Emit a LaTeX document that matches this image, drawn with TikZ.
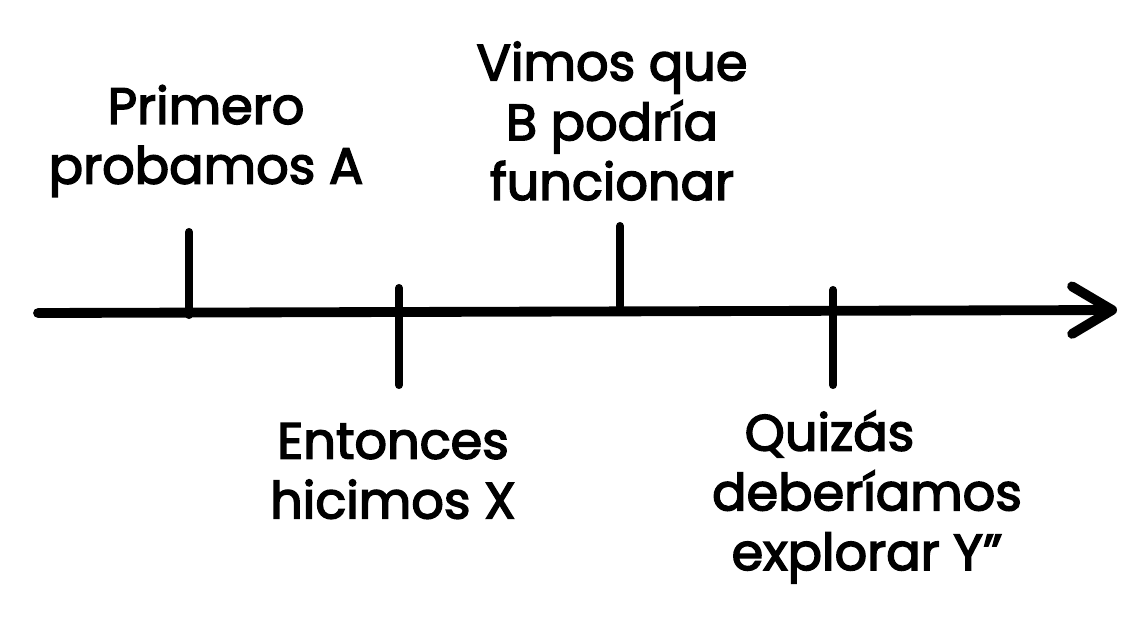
\documentclass[tikz,border=0pt]{standalone}
\usepackage{fontspec}
\setmainfont{Poppins}[FakeBold=3]
\usetikzlibrary{arrows.meta}
\tikzset{
  axisline/.style={line width=5.6pt,line cap=round,
                   -{Straight Barb[length=0.8cm,width=0.95cm,round]}},
  tickline/.style={line width=4.6pt,line cap=round},
  eventlabel/.style={align=center,inner sep=0pt,
                     font=\fontsize{29}{34}\selectfont}}

\begin{document}
\begin{tikzpicture}[x=0.02cm,y=-0.02cm]
\useasboundingbox (0,0) rectangle (1148,629);

% time axis
\coordinate (start) at (38,313);
\coordinate (end)   at (1117,310);
\draw[axisline] (start) -- (end);

% event ticks
\foreach \n/\x/\ytop/\ybot in {1/189/232/315,2/399/288/385,3/620/226/306,4/833/290/385}{%
  \coordinate (t\n-top) at (\x,\ytop);
  \coordinate (t\n-bot) at (\x,\ybot);
  \draw[tickline] (t\n-top) -- (t\n-bot);
}

\node[eventlabel] (probamosA)  at (206,141) {Primero\\probamos A};
\node[eventlabel] (podriaB)    at (612,121) {Vimos que\\B podría\\funcionar};
\node[eventlabel] (hicimosX)   at (393,471) {Entonces\\hicimos X};
\node[eventlabel] (explorarY)  at (867,497) {\hspace*{-1.5cm}Quizás\\deberíamos\\explorar Y”};
\end{tikzpicture}
\end{document}
